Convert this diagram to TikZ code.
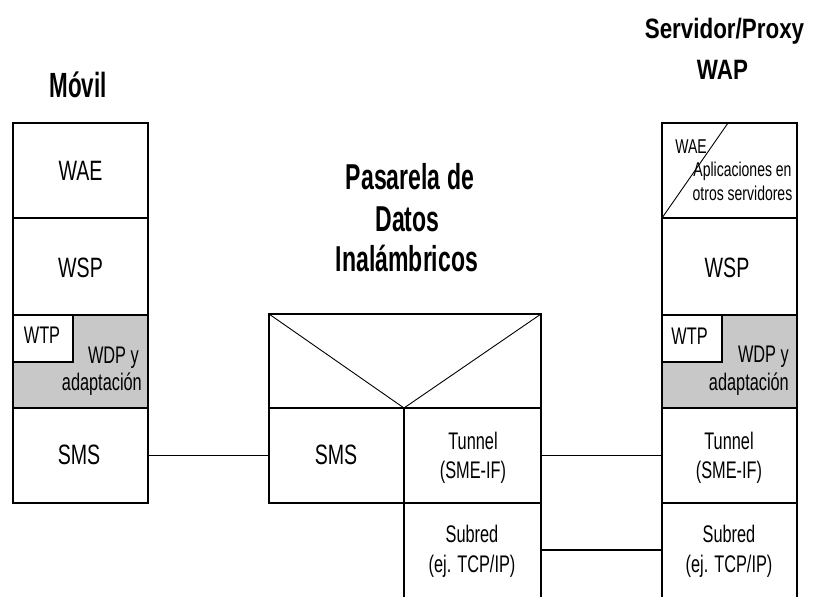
\documentclass[tikz,border=0pt]{standalone}
\usepackage{fontspec}
\setmainfont{Liberation Sans}
\newfontfamily\fbig{Liberation Sans}[FakeStretch=0.7]
\newfontfamily\fsmall{Liberation Sans}[FakeStretch=0.68]
\newfontfamily\ftitle{Liberation Sans}[FakeStretch=0.64]
\newfontfamily\ftitleb{Liberation Sans}[FakeStretch=0.8]
\definecolor{cellgray}{RGB}{200,200,200}
\begin{document}
\begin{tikzpicture}[x=1pt,y=-1pt,
  cell/.style={draw, line width=1.2pt, inner sep=0pt, outer sep=0pt},
  opencell/.style={inner sep=0pt, outer sep=0pt},
  wire/.style={line width=1.2pt},
  thinwire/.style={line width=0.9pt},
  biglbl/.style={anchor=base, inner sep=0pt, font=\fbig\fontsize{28}{30}\selectfont},
  smalllbl/.style={anchor=base, inner sep=0pt, font=\fsmall\fontsize{24}{26}\selectfont},
  tinylbl/.style={anchor=base, inner sep=0pt, font=\fbig\fontsize{20}{22}\selectfont},
  titlelbl/.style={anchor=base, inner sep=0pt, font=\ftitle\bfseries\fontsize{35}{37}\selectfont},
  titlelblb/.style={anchor=base, inner sep=0pt, font=\ftitleb\bfseries\fontsize{28}{30}\selectfont}
]
\useasboundingbox (0,0) rectangle (813,597);

% ---------- Movil column ----------
\node[cell, minimum width=135pt, minimum height=95pt] (lwae) at (80.5,170.5) {};
\node[cell, minimum width=135pt, minimum height=97pt] (lwsp) at (80.5,266.5) {};
\node[cell, fill=cellgray, minimum width=135pt, minimum height=93pt] (ladp) at (80.5,361.5) {};
\node[cell, fill=white, minimum width=60pt, minimum height=47pt] (lwtp) at (43,338.5) {};
\node[cell, minimum width=135pt, minimum height=95pt] (lsms) at (80.5,455.5) {};

\node[titlelbl] (tmovil) at (78,97) {Móvil};
\node[biglbl] (lwaet) at (80.5,180) {WAE};
\node[biglbl] (lwspt) at (80.5,277) {WSP};
\node[smalllbl] (lwtpt) at (42,343) {WTP};
\node[smalllbl, anchor=base east] (lwdpt) at (139,363) {WDP y};
\node[smalllbl, anchor=base east] (ladpt) at (142,390) {adaptación};
\node[biglbl] (lsmst) at (79,464) {SMS};

% ---------- Gateway ----------
\node[cell, minimum width=272pt, minimum height=94pt] (mtop) at (405,361) {};
\node[cell, minimum width=135pt, minimum height=95pt] (msms) at (336.5,455.5) {};
\node[cell, minimum width=137pt, minimum height=95pt] (mtun) at (472.5,455.5) {};
\node[opencell, minimum width=137pt, minimum height=94pt] (msub) at (472.5,550) {};
\draw[wire] (msub.north west) -- (msub.south west);
\draw[wire] (msub.north east) -- (msub.south east);
\coordinate (vtx) at (msms.north east);
\draw[thinwire] (mtop.north west) -- (vtx) -- (mtop.north east);

\node[titlelbl, font=\ftitle\bfseries\fontsize{36}{38}\selectfont] (tpas1) at (410,189) {Pasarela de};
\node[titlelbl, font=\ftitle\bfseries\fontsize{36}{38}\selectfont] (tpas2) at (407.5,231) {Datos};
\node[titlelbl, font=\ftitle\bfseries\fontsize{36}{38}\selectfont] (tpas3) at (407,271) {Inalámbricos};
\node[biglbl] (msmst) at (336,464) {SMS};
\node[smalllbl] (mtunt1) at (473,449) {Tunnel};
\node[smalllbl] (mtunt2) at (473,478) {(SME-IF)};
\node[smalllbl] (msubt1) at (472,542) {Subred};
\node[smalllbl] (msubt2) at (472,572) {(ej. TCP/IP)};

% ---------- Server / Proxy column ----------
\node[cell, minimum width=135pt, minimum height=95pt] (rwae) at (729.5,170.5) {};
\node[cell, minimum width=135pt, minimum height=97pt] (rwsp) at (729.5,266.5) {};
\node[cell, fill=cellgray, minimum width=135pt, minimum height=93pt] (radp) at (729.5,361.5) {};
\node[cell, fill=white, minimum width=60pt, minimum height=47pt] (rwtp) at (692,338.5) {};
\node[cell, minimum width=135pt, minimum height=95pt] (rtun) at (729.5,455.5) {};
\node[opencell, minimum width=135pt, minimum height=94pt] (rsub) at (729.5,550) {};
\draw[wire] (rsub.north west) -- (rsub.south west);
\draw[wire] (rsub.north east) -- (rsub.south east);
\coordinate (rdiag) at (728,123);
\draw[thinwire] (rwae.south west) -- (rdiag);

\node[titlelblb] (tserv1) at (724.5,38) {Servidor/Proxy};
\node[titlelblb] (tserv2) at (722.5,79) {WAP};
\node[tinylbl] (rwaet) at (691,153) {WAE};
\node[tinylbl] (rapp1) at (742.5,176) {Aplicaciones en};
\node[tinylbl] (rapp2) at (742.5,200) {otros servidores};
\node[biglbl] (rwspt) at (727,277) {WSP};
\node[smalllbl] (rwtpt) at (689.5,344) {WTP};
\node[smalllbl, anchor=base east] (rwdpt) at (789,362) {WDP y};
\node[smalllbl, anchor=base east] (radpt) at (789,390) {adaptación};
\node[smalllbl] (rtunt1) at (729,449) {Tunnel};
\node[smalllbl] (rtunt2) at (729,478) {(SME-IF)};
\node[smalllbl] (rsubt1) at (729,542) {Subred};
\node[smalllbl] (rsubt2) at (729,572) {(ej. TCP/IP)};

% ---------- connectors ----------
\draw[wire] (lsms.east) -- (msms.west);
\draw[wire] (mtun.east) -- (rtun.west);
\draw[wire] (msub.east) -- (rsub.west);
\end{tikzpicture}
\end{document}
